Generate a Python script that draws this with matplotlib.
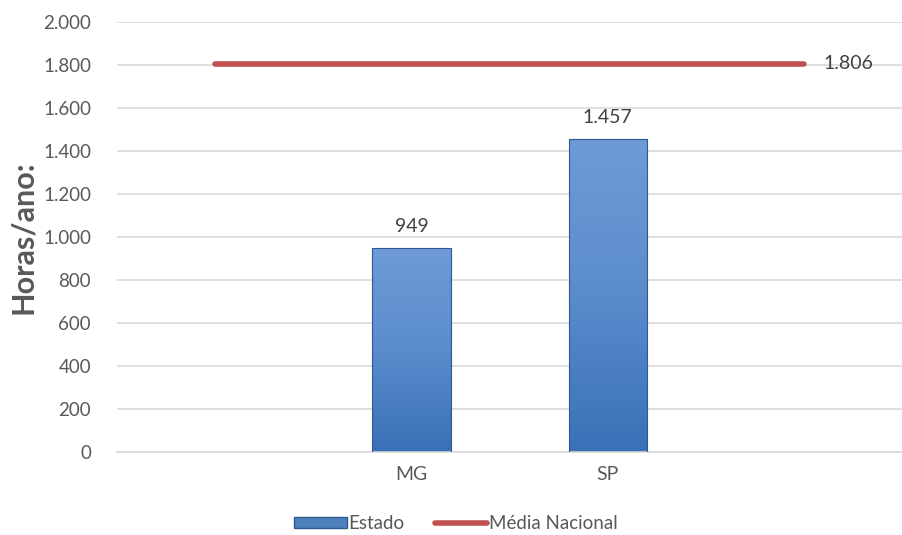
import numpy as np
import matplotlib
matplotlib.use("Agg")
from matplotlib import pyplot as plt
from matplotlib.patches import Patch
from matplotlib.lines import Line2D

categories = ["", "MG", "SP", ""]
estado = [np.nan, 949, 1457, np.nan]
media_nacional = [1806, 1806, 1806, 1806]
y_ticks = list(range(0, 2001, 200))


def fmt(v):
    return f"{v:,.0f}".replace(",", ".")


plt.rcParams["font.family"] = ["Lato", "DejaVu Sans"]
TXT = "#595959"

fig = plt.figure(figsize=(9.03, 5.35), dpi=100)
ax = fig.add_axes([0.130, 0.155, 0.869, 0.804])

x = np.arange(len(categories))
ax.set_xlim(-0.5, len(categories) - 0.5)
ax.set_ylim(0, 2000)

# bars with a vertical gradient
bars = ax.bar(x, estado, width=0.4, color="none", edgecolor="#2f5a8f",
              linewidth=0.8, zorder=3)
grad = np.linspace(0, 1, 256).reshape(-1, 1)
cmap = matplotlib.colors.LinearSegmentedColormap.from_list(
    "blu", ["#3a70b6", "#5a8ccd", "#6e9bd7"])
for b in bars:
    h = b.get_height()
    if np.isnan(h):
        continue
    x0, w = b.get_x(), b.get_width()
    im = ax.imshow(grad, extent=[x0, x0 + w, 0, h], origin="lower",
                   cmap=cmap, aspect="auto", zorder=2)
    im.set_clip_path(b)
    ax.text(b.get_x() + w / 2, h + 60, fmt(h), ha="center", va="bottom",
            fontsize=14, color="#404040")

ax.plot(x, media_nacional, color="#c0504d", lw=4, solid_capstyle="round",
        zorder=4)
ax.text(x[-1] + 0.1, media_nacional[-1], fmt(media_nacional[-1]),
        va="center", ha="left", fontsize=14, color="#404040")

ax.set_yticks(y_ticks)
ax.set_yticklabels([fmt(v) for v in y_ticks], fontsize=13.5, color=TXT)
ax.set_xticks(x)
ax.set_xticklabels(categories, fontsize=14, color=TXT)
ax.tick_params(length=0, pad=10)
ax.tick_params(axis="y", pad=19)
ax.yaxis.grid(True, color="#d9d9d9", lw=1.2)
ax.set_axisbelow(True)
for s in ["top", "right", "left"]:
    ax.spines[s].set_visible(False)
ax.spines["bottom"].set_color("#d9d9d9")
ax.spines["bottom"].set_linewidth(1.2)

ax.set_ylabel("Horas/ano:", fontsize=22, fontweight="bold", color=TXT,
              labelpad=4)

handles = [Patch(facecolor="#4f81bd", edgecolor="#2f5a8f"),
           Line2D([0], [0], color="#c0504d", lw=4, solid_capstyle="round")]
fig.legend(handles, ["Estado", "Média Nacional"], loc="center",
           bbox_to_anchor=(0.505, 0.021), ncol=2, frameon=False,
           fontsize=13.5, labelcolor=TXT, handlelength=2.8, handletextpad=0.1,
           columnspacing=1.6, handleheight=0.5)

fig.savefig("out.png", dpi=100)
